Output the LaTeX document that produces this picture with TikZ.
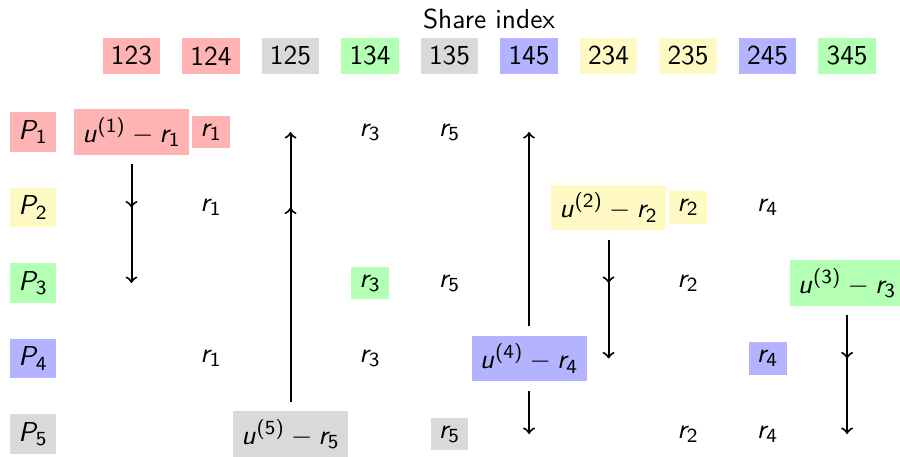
\documentclass[tikz,border=0pt]{standalone}
\usetikzlibrary{positioning}
\definecolor{shRed}{RGB}{255,179,179}
\definecolor{shYellow}{RGB}{255,249,196}
\definecolor{shGreen}{RGB}{179,255,179}
\definecolor{shBlue}{RGB}{179,179,255}
\definecolor{shGray}{RGB}{217,217,217}
% sans serif math, as on a slide
\DeclareMathVersion{sans}
\SetSymbolFont{operators}{sans}{OT1}{cmss}{m}{n}
\SetSymbolFont{letters}{sans}{OT1}{cmss}{m}{sl}
\tikzset{
    base/.style={font=\fontsize{10.95}{13.6}\selectfont\sffamily\mathversion{sans}},
    share/.style={base, rectangle, inner sep=3.33pt},
    party/.style={base, rectangle, inner sep=3.33pt},
    flow/.style={->, thick, color=black, shorten <=3.5pt}
}
\begin{document}
\begin{tikzpicture}
  \useasboundingbox (0,0) rectangle (12.655,-6.412);

  % Share index header
  \node[base] (title) at (6.876,-0.267) {Share index};
  \foreach \idx/\col [count=\k from 0] in {123/shRed,124/shRed,125/shGray,134/shGreen,135/shGray,
                                           145/shBlue,234/shYellow,235/shYellow,245/shBlue,345/shGreen}
    \node[share, fill=\col] (s\idx) at ({1.849+1.118*\k},-0.787) {\idx};

  % Parties
  \foreach \i/\col in {1/shRed,2/shYellow,3/shGreen,4/shBlue,5/shGray}
    \node[party, fill=\col] (p\i) at (0.464,{-1.856-1.0616*(\i-1)}) {$P_\i$};

  % P1
  \node[share, fill=shRed] (u1) at (s123 |- p1) {$u^{(1)} - r_1$};
  \node[share, fill=shRed] (r1a) at (s124 |- p1) {$r_1$};
  \node[share] (r3a) at (s134 |- p1) {$r_3$};
  \node[share] (r5a) at (s135 |- p1) {$r_5$};

  % P2
  \node[share] (r1b) at (s124 |- p2) {$r_1$};
  \node[share, fill=shYellow] (u2) at (s234 |- p2) {$u^{(2)} - r_2$};
  \node[share, fill=shYellow] (r2a) at (s235 |- p2) {$r_2$};
  \node[share] (r4a) at (s245 |- p2) {$r_4$};

  % P3
  \node[share, fill=shGreen] (r3b) at (s134 |- p3) {$r_3$};
  \node[share] (r5b) at (s135 |- p3) {$r_5$};
  \node[share] (r2b) at (s235 |- p3) {$r_2$};
  \node[share, fill=shGreen] (u3) at (s345 |- p3) {$u^{(3)} - r_3$};

  % P4
  \node[share] (r1c) at (s124 |- p4) {$r_1$};
  \node[share] (r3c) at (s134 |- p4) {$r_3$};
  \node[share, fill=shBlue] (u4) at (s145 |- p4) {$u^{(4)} - r_4$};
  \node[share, fill=shBlue] (r4b) at (s245 |- p4) {$r_4$};

  % P5
  \node[share, fill=shGray] (u5) at (s125 |- p5) {$u^{(5)} - r_5$};
  \node[share, fill=shGray] (r5c) at (s135 |- p5) {$r_5$};
  \node[share] (r2c) at (s235 |- p5) {$r_2$};
  \node[share] (r4c) at (s245 |- p5) {$r_4$};

  % where the masked values go
  \coordinate (t123-2) at (s123 |- p2);
  \coordinate (t123-3) at (s123 |- p3);
  \coordinate (t125-1) at (s125 |- p1);
  \coordinate (t125-2) at (s125 |- p2);
  \coordinate (t145-1) at (s145 |- p1);
  \coordinate (t145-5) at (s145 |- p5);
  \coordinate (t234-3) at (s234 |- p3);
  \coordinate (t234-4) at (s234 |- p4);
  \coordinate (t345-4) at (s345 |- p4);
  \coordinate (t345-5) at (s345 |- p5);

  \draw[flow] (u1) -- (t123-2);
  \draw[flow] (u1) -- (t123-3);
  \draw[flow] (u5) -- (t125-2);
  \draw[flow] (u5) -- (t125-1);
  \draw[flow] (u4) -- (t145-1);
  \draw[flow] (u4) -- (t145-5);
  \draw[flow] (u2) -- (t234-3);
  \draw[flow] (u2) -- (t234-4);
  \draw[flow] (u3) -- (t345-4);
  \draw[flow] (u3) -- (t345-5);
\end{tikzpicture}
\end{document}
